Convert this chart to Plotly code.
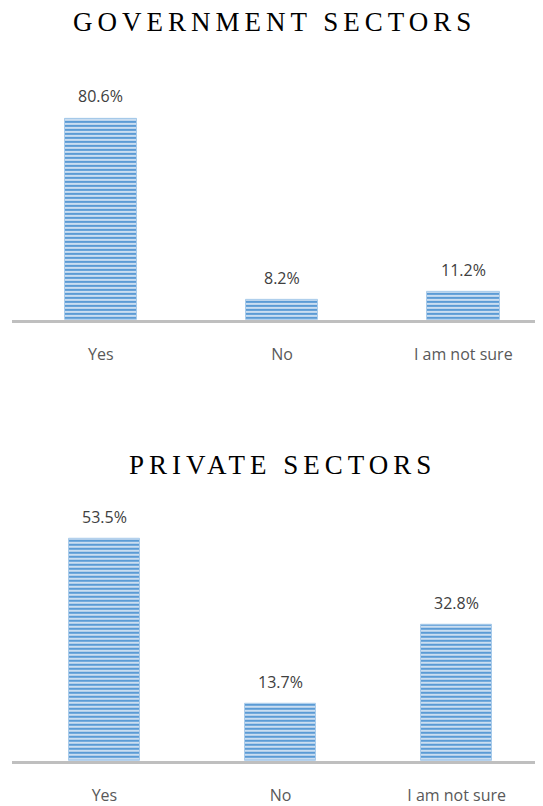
import plotly.graph_objects as go
from plotly.subplots import make_subplots

categories = ["Yes", "No", "I am not sure"]
gov_values = [80.6, 8.2, 11.2]
priv_values = [53.5, 13.7, 32.8]
titles = ["GOVERNMENT SECTORS", "PRIVATE SECTORS"]

# the page body has an 8px margin: work in page pixels and shift
OFF = 8
W, H = 543 - OFF, 806 - OFF
BLUE = "#5B9BD5"
LIGHT = "#EEF4FB"


def py(p):
    """page pixel (from top) -> paper y"""
    return 1 - (p - OFF) / H


fig = make_subplots(rows=2, cols=1, vertical_spacing=0.1)

for row, vals in [(1, gov_values), (2, priv_values)]:
    fig.add_trace(go.Bar(
        x=categories, y=vals, width=0.4,
        marker=dict(
            color=LIGHT,
            line=dict(color="#A9CBEA", width=1),
            pattern=dict(shape="-", size=4, solidity=0.62, fgopacity=1,
                         fgcolor=BLUE, bgcolor=LIGHT, fillmode="overlay"),
        ),
        showlegend=False, hoverinfo="skip",
    ), row=row, col=1)
    xref = "x" if row == 1 else "x2"
    yref = "y" if row == 1 else "y2"
    for c, v in zip(categories, vals):
        fig.add_annotation(
            x=c, y=v, xref=xref, yref=yref, text=f"{v:.1f}%",
            showarrow=False, yanchor="bottom", yshift=9,
            font=dict(family="Open Sans, Liberation Sans, sans-serif", size=16, color="#404040"),
        )

fig.update_layout(
    xaxis=dict(domain=[0, 1], range=[-0.49, 2.44]),
    yaxis=dict(domain=[py(321), py(60)], range=[0, 104]),
    xaxis2=dict(domain=[0, 1], range=[-0.525, 2.49]),
    yaxis2=dict(domain=[py(763), py(500)], range=[0, 63.1]),
)
fig.update_xaxes(showline=True, linecolor="#BFBFBF", linewidth=3,
                 showgrid=False, zeroline=False,
                 ticks="outside", ticklen=18, tickcolor="rgba(0,0,0,0)",
                 tickfont=dict(family="Open Sans, Liberation Sans, sans-serif",
                               size=16, color="#595959"))
fig.update_yaxes(visible=False, showgrid=False, zeroline=False)

for t, ypix, xc in [(titles[0], 22, 0.495), (titles[1], 466, 0.51)]:
    fig.add_annotation(
        x=xc, y=py(ypix), xref="paper", yref="paper",
        text=f'<span style="letter-spacing:5px">{t}</span>',
        showarrow=False, xanchor="center", yanchor="middle",
        font=dict(family="Liberation Serif, Times New Roman, serif", size=27, color="#000000"),
    )

fig.update_layout(
    width=W, height=H,
    margin=dict(l=12 - OFF, r=0, t=0, b=0),
    paper_bgcolor="white", plot_bgcolor="white",
    bargap=0,
)

fig.write_html("out.html")
